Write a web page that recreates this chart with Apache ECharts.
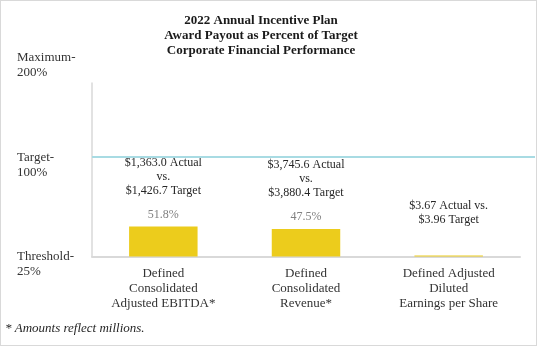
<!DOCTYPE html>
<html>
<head>
<meta charset="utf-8">
<script src="https://cdn.jsdelivr.net/npm/echarts@6/dist/echarts.min.js"></script>
<style>
  html, body { margin: 0; padding: 0; background: #ffffff; }
  #chart { width: 537px; height: 346px; }
  #frame { position: absolute; left: 0; top: 0; width: 537px; height: 346px;
           box-sizing: border-box; border: 1px solid #d9d9d9; pointer-events: none; }
</style>
</head>
<body>
<div id="chart"></div>
<div id="frame"></div>
<script>
// Performance measures and their award payout (% of target)
const categories = [
  'Defined\nConsolidated\nAdjusted EBITDA*',
  'Defined\nConsolidated\nRevenue*',
  'Defined Adjusted\nDiluted\nEarnings per Share'
];
const payoutPct = [51.8, 47.5, 0];
const payoutLabels = ['51.8%', '47.5%', ''];
const resultNotes = [
  '$1,363.0 Actual\nvs.\n$1,426.7 Target',
  '$3,745.6 Actual\nvs.\n$3,880.4 Target',
  '$3.67 Actual vs.\n$3.96 Target'
];
// Payout levels, evenly spaced on the left scale (index 0, 1, 2)
const levelLabels = ['Threshold-\n25%', 'Target-\n100%', 'Maximum-\n200%'];
const targetLevel = 1;

const SERIF = 'Liberation Serif';

const chart = echarts.init(document.getElementById('chart'), null, { renderer: 'canvas' });

chart.setOption({
  animation: false,
  title: [
    {
      text: '2022 Annual Incentive Plan\nAward Payout as Percent of Target\nCorporate Financial Performance',
      left: 261, top: 13, padding: 0, textAlign: 'center',
      textStyle: { fontFamily: SERIF, fontSize: 13, fontWeight: 'bold', lineHeight: 15, color: '#1a1a1a' }
    },
    {
      text: '* Amounts reflect millions.',
      left: 5, top: 322.5, padding: 0,
      textStyle: { fontFamily: SERIF, fontSize: 13, fontStyle: 'italic', fontWeight: 'normal', color: '#262626' }
    }
  ],
  grid: [
    { left: 92, right: 17, top: 83, bottom: 89.5 },
    { left: 92, right: 2, top: 57.5, bottom: 89.5 }
  ],
  xAxis: [
    {
      type: 'category', gridIndex: 0, data: categories,
      axisLine: { lineStyle: { color: '#d9d9d9', width: 2 } },
      axisTick: { show: false },
      axisLabel: { interval: 0, margin: 10, fontFamily: SERIF, fontSize: 13, lineHeight: 15, color: '#333333' }
    },
    { type: 'value', gridIndex: 1, min: 0, max: 1, show: false }
  ],
  yAxis: [
    {
      type: 'value', gridIndex: 0, min: 0, max: 300,
      axisLine: { show: true, lineStyle: { color: '#d9d9d9', width: 1.5 } },
      axisTick: { show: false },
      axisLabel: { show: false },
      splitLine: { show: false }
    },
    {
      type: 'value', gridIndex: 1, min: 0, max: 2, interval: 1,
      axisLine: { show: false },
      axisTick: { show: false },
      splitLine: { show: false },
      axisLabel: {
        align: 'left', margin: 75, verticalAlign: 'middle',
        formatter: v => {
          if (!Number.isInteger(v) || !levelLabels[v]) return '';
          // a blank lead line drops the first text line onto the level
          return '{g| }\n' + levelLabels[v].split('\n').map(s => '{t|' + s + '}').join('\n');
        },
        rich: {
          g: { fontSize: 6, lineHeight: 16 },
          t: { fontFamily: SERIF, fontSize: 13, lineHeight: 15, color: '#333333' }
        }
      }
    }
  ],
  series: [
    {
      type: 'bar', xAxisIndex: 0, yAxisIndex: 0,
      data: payoutPct,
      barWidth: '48%',
      barMinHeight: 1,
      itemStyle: { color: '#ECCC1C' },
      label: {
        show: true, position: 'top', distance: 5,
        formatter: p => {
          const notes = resultNotes[p.dataIndex].split('\n').map(s => '{a|' + s + '}').join('\n');
          return notes + '\n{s| }\n{p|' + (payoutLabels[p.dataIndex] || ' ') + '}';
        },
        rich: {
          a: { fontFamily: SERIF, fontSize: 12, lineHeight: 14, color: '#262626', align: 'center' },
          s: { fontSize: 8, lineHeight: 10 },
          p: { fontFamily: SERIF, fontSize: 12, lineHeight: 14, color: '#808080', align: 'center' }
        }
      }
    },
    {
      type: 'line', xAxisIndex: 1, yAxisIndex: 1, data: [],
      markLine: {
        silent: true, symbol: 'none',
        label: { show: false },
        lineStyle: { color: '#a8dbe3', width: 2, type: 'solid' },
        data: [{ yAxis: targetLevel }]
      }
    }
  ]
});
</script>
</body>
</html>
